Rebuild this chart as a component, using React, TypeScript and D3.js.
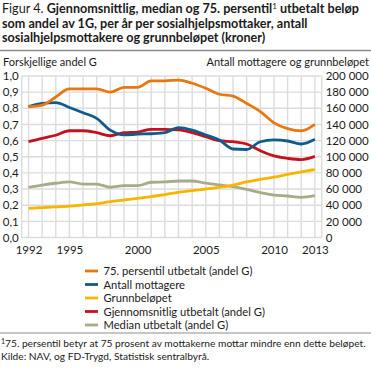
import React, { useEffect, useRef } from "react";
import * as d3 from "d3";

const years = d3.range(1992, 2014);
const xTickYears = [1992, 1995, 2000, 2005, 2010, 2013];
const leftTicks = [0, 0.1, 0.2, 0.3, 0.4, 0.5, 0.6, 0.7, 0.8, 0.9, 1.0];
const rightTicks = [0, 20000, 40000, 60000, 80000, 100000, 120000, 140000, 160000, 180000, 200000];

// andel G
const persentil75 = [0.81, 0.82, 0.87, 0.92, 0.92, 0.92, 0.9, 0.93, 0.93, 0.97, 0.97, 0.975, 0.955, 0.924, 0.887, 0.876, 0.83, 0.78, 0.71, 0.674, 0.66, 0.7];
const gjennomsnitt = [0.593, 0.614, 0.633, 0.661, 0.661, 0.649, 0.63, 0.649, 0.653, 0.67, 0.67, 0.666, 0.649, 0.624, 0.6, 0.593, 0.579, 0.537, 0.505, 0.49, 0.482, 0.502];
const median = [0.311, 0.325, 0.336, 0.344, 0.331, 0.331, 0.311, 0.321, 0.321, 0.342, 0.344, 0.35, 0.35, 0.336, 0.325, 0.315, 0.298, 0.278, 0.263, 0.257, 0.249, 0.259];
// kroner / antall
const antall = [162000, 166000, 167000, 161000, 154500, 147600, 133000, 127000, 128000, 128500, 129800, 136000, 133000, 127000, 120700, 109600, 109000, 118600, 120800, 119500, 115800, 121600];
const grunnbelop = [36167, 37033, 37820, 38847, 40410, 42000, 44413, 46423, 48377, 50603, 53233, 55964, 58139, 60059, 62161, 64846, 68853, 72006, 74721, 78024, 81153, 84204];

const series = [
  { name: "75. persentil utbetalt (andel G)", values: persentil75, axis: "left", color: "#e8770f" },
  { name: "Antall mottagere", values: antall, axis: "right", color: "#0f5b8c" },
  { name: "Grunnbeløpet", values: grunnbelop, axis: "right", color: "#f7b500" },
  { name: "Gjennomsnitlig utbetalt (andel G)", values: gjennomsnitt, axis: "left", color: "#c3121e" },
  { name: "Median utbetalt (andel G)", values: median, axis: "left", color: "#a9aa86" },
];
const drawOrder = [4, 2, 3, 1, 0];

const FONT = "Lato, 'Open Sans', sans-serif";

export default function App() {
  const svgRef = useRef<SVGSVGElement>(null);

  useEffect(() => {
    document.body.style.margin = "0";
    const svg = d3.select(svgRef.current);
    svg.selectAll("*").remove();

    const left = 21.7, right = 321.7, top = 76, bottom = 237.5;

    const x = d3.scalePoint<number>().domain(years).range([left, right]).padding(0.5);
    const yL = d3.scaleLinear().domain([0, 1]).range([bottom, top]);
    const yR = d3.scaleLinear().domain([0, 200000]).range([bottom, top]);

    // title
    const title = svg.append("text").attr("font-family", FONT).attr("font-size", 12.6).attr("fill", "#1a1a1a");
    title.append("tspan").attr("x", 2).attr("y", 13).text("Figur 4. ");
    title.append("tspan").attr("font-weight", "bold").text("Gjennomsnittlig, median og 75. persentil");
    title.append("tspan").attr("font-size", 8).attr("dy", -4).text("1");
    title.append("tspan").attr("font-weight", "bold").attr("dy", 4).text(" utbetalt beløp");
    ["som andel av 1G, per år per sosialhjelpsmottaker, antall", "sosialhjelpsmottakere og grunnbeløpet (kroner)"].forEach((t, i) =>
      svg.append("text").attr("x", 2).attr("y", 27.5 + i * 14.5).attr("font-family", FONT).attr("font-size", 12.6)
        .attr("font-weight", "bold").attr("fill", "#1a1a1a").text(t)
    );
    svg.append("line").attr("x1", 0).attr("x2", 371).attr("y1", 50.5).attr("y2", 50.5).attr("stroke", "#8c8c8c").attr("stroke-width", 1.5);

    // axis titles
    svg.append("text").attr("x", 3).attr("y", 65.5).attr("font-family", FONT).attr("font-size", 11).attr("fill", "#1a1a1a").text("Forskjellige andel G");
    svg.append("text").attr("x", 369).attr("y", 65.5).attr("text-anchor", "end").attr("font-family", FONT).attr("font-size", 11).attr("fill", "#1a1a1a").text("Antall mottagere og grunnbeløpet");

    // grid
    const grid = svg.append("g").attr("stroke", "#dcdcdc").attr("stroke-width", 1.4);
    leftTicks.forEach((t) => grid.append("line").attr("x1", left).attr("x2", right).attr("y1", yL(t)).attr("y2", yL(t)));
    [left, ...years.map((y) => x(y) as number), right].forEach((px) =>
      grid.append("line").attr("x1", px).attr("x2", px).attr("y1", top).attr("y2", bottom)
    );

    // left axis
    const fmtL = (d: number) => d.toFixed(1).replace(".", ",");
    svg.append("g").attr("transform", `translate(${left - 3},0)`)
      .call(d3.axisLeft(yL).tickValues(leftTicks).tickFormat((d) => fmtL(d as number)).tickSize(0).tickPadding(0))
      .call((g) => g.select(".domain").remove())
      .call((g) => g.selectAll("text").attr("font-family", FONT).attr("font-size", 11.5).attr("fill", "#1a1a1a"));

    // right axis
    const fmtR = (d: number) => d3.format(",")(d).replace(/,/g, " ");
    svg.append("g").attr("transform", `translate(${right + 4},0)`)
      .call(d3.axisRight(yR).tickValues(rightTicks).tickFormat((d) => fmtR(d as number)).tickSize(0).tickPadding(0))
      .call((g) => g.select(".domain").remove())
      .call((g) => g.selectAll("text").attr("font-family", FONT).attr("font-size", 11.5).attr("fill", "#1a1a1a"));

    // x axis
    svg.append("g").attr("transform", `translate(0,${bottom + 1})`)
      .call(d3.axisBottom(x).tickValues(xTickYears).tickSize(0).tickPadding(7))
      .call((g) => g.select(".domain").remove())
      .call((g) => g.selectAll("text").attr("font-family", FONT).attr("font-size", 11.5).attr("fill", "#1a1a1a"));

    // lines
    drawOrder.forEach((i) => {
      const s = series[i];
      const yS = s.axis === "left" ? yL : yR;
      const line = d3.line<number>().x((_, j) => x(years[j]) as number).y((v) => yS(v)).curve(d3.curveMonotoneX);
      svg.append("path").datum(s.values).attr("d", line).attr("fill", "none")
        .attr("stroke", s.color).attr("stroke-width", 2.8).attr("stroke-linejoin", "round");
    });

    // legend
    const lg = svg.append("g");
    series.forEach((s, i) => {
      const cy = 271 + i * 13.5;
      lg.append("line").attr("x1", 85).attr("x2", 98).attr("y1", cy).attr("y2", cy).attr("stroke", s.color).attr("stroke-width", 2.8);
      lg.append("text").attr("x", 103.5).attr("y", cy + 4).attr("font-family", FONT).attr("font-size", 11.2).attr("fill", "#1a1a1a").text(s.name);
    });

    // footnote
    svg.append("line").attr("x1", 0).attr("x2", 371).attr("y1", 333).attr("y2", 333).attr("stroke", "#8c8c8c").attr("stroke-width", 1);
    const fn = svg.append("text").attr("x", 1).attr("y", 347).attr("font-family", FONT).attr("font-size", 10.2).attr("fill", "#1a1a1a");
    fn.append("tspan").attr("font-size", 7).attr("dy", -3).text("1");
    fn.append("tspan").attr("dy", 3).text("75. persentil betyr at 75 prosent av mottakerne mottar mindre enn dette beløpet.");
    svg.append("text").attr("x", 1).attr("y", 360).attr("font-family", FONT).attr("font-size", 10.2).attr("fill", "#1a1a1a")
      .text("Kilde: NAV, og FD-Trygd, Statistisk sentralbyrå.");
  }, []);

  return <svg ref={svgRef} width={371} height={373} style={{ display: "block", background: "#fff" }} />;
}
